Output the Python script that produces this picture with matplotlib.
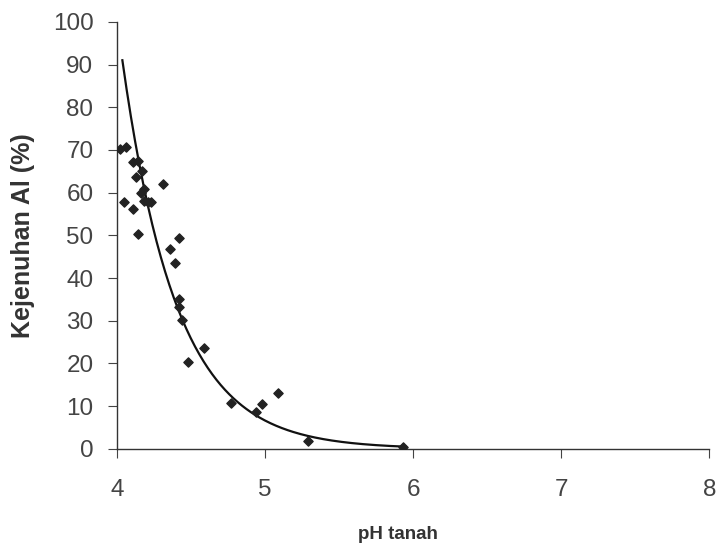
import numpy as np
import matplotlib
matplotlib.use("Agg")
import matplotlib.pyplot as plt

plt.rcParams['font.family'] = ['Liberation Sans', 'DejaVu Sans']

# soil pH vs Al saturation
ph = [4.02, 4.06, 4.05, 4.11, 4.14, 4.11, 4.14, 4.17, 4.13, 4.18, 4.16,
      4.21, 4.23, 4.18, 4.31, 4.36, 4.39, 4.42, 4.42, 4.42, 4.44, 4.48,
      4.59, 4.77, 4.94, 4.98, 5.09, 5.29, 5.93]
al_sat = [70.2, 70.6, 57.8, 56.2, 50.3, 67.1, 67.3, 65.0, 63.6, 60.8, 59.8,
          57.8, 57.8, 58.0, 62.0, 46.9, 43.6, 49.4, 35.2, 33.3, 30.1, 20.3,
          23.5, 10.7, 8.6, 10.5, 13.1, 1.9, 0.5]

# exponential trendline (y = a * exp(-b x))
trend_a = 5.33e6
trend_b = 2.72
trend_range = (4.036, 5.95)

fig = plt.figure(figsize=(7.18, 5.46), dpi=100)
ax = fig.add_axes([0.163, 0.178, 0.825, 0.782])

xs = np.linspace(trend_range[0], trend_range[1], 200)
ax.plot(xs, trend_a * np.exp(-trend_b * xs), color='#111111', lw=1.6, zorder=2)
ax.scatter(ph, al_sat, marker='D', s=22, color='#222222', zorder=3)

ax.set_xlim(4, 8)
ax.set_ylim(0, 100)
ax.set_xticks([4, 5, 6, 7, 8])
ax.set_yticks(range(0, 101, 10))

for s in ['top', 'right']:
    ax.spines[s].set_visible(False)
for s in ['left', 'bottom']:
    ax.spines[s].set_color('#333333')
    ax.spines[s].set_linewidth(1.0)

ax.tick_params(axis='both', labelsize=17.5, colors='#444444', length=6.5, width=0.8)
ax.tick_params(axis='y', pad=10.5)
ax.tick_params(axis='x', pad=15)

ax.set_xlabel('pH tanah', fontsize=13.5, fontweight='bold', color='#333333', va='top')
ax.xaxis.set_label_coords(0.475, -0.18)
ax.set_ylabel('Kejenuhan Al (%)', fontsize=18, fontweight='bold', color='#333333')
ax.yaxis.set_label_coords(-0.138, 0.5)

fig.savefig('out.png', dpi=100)
